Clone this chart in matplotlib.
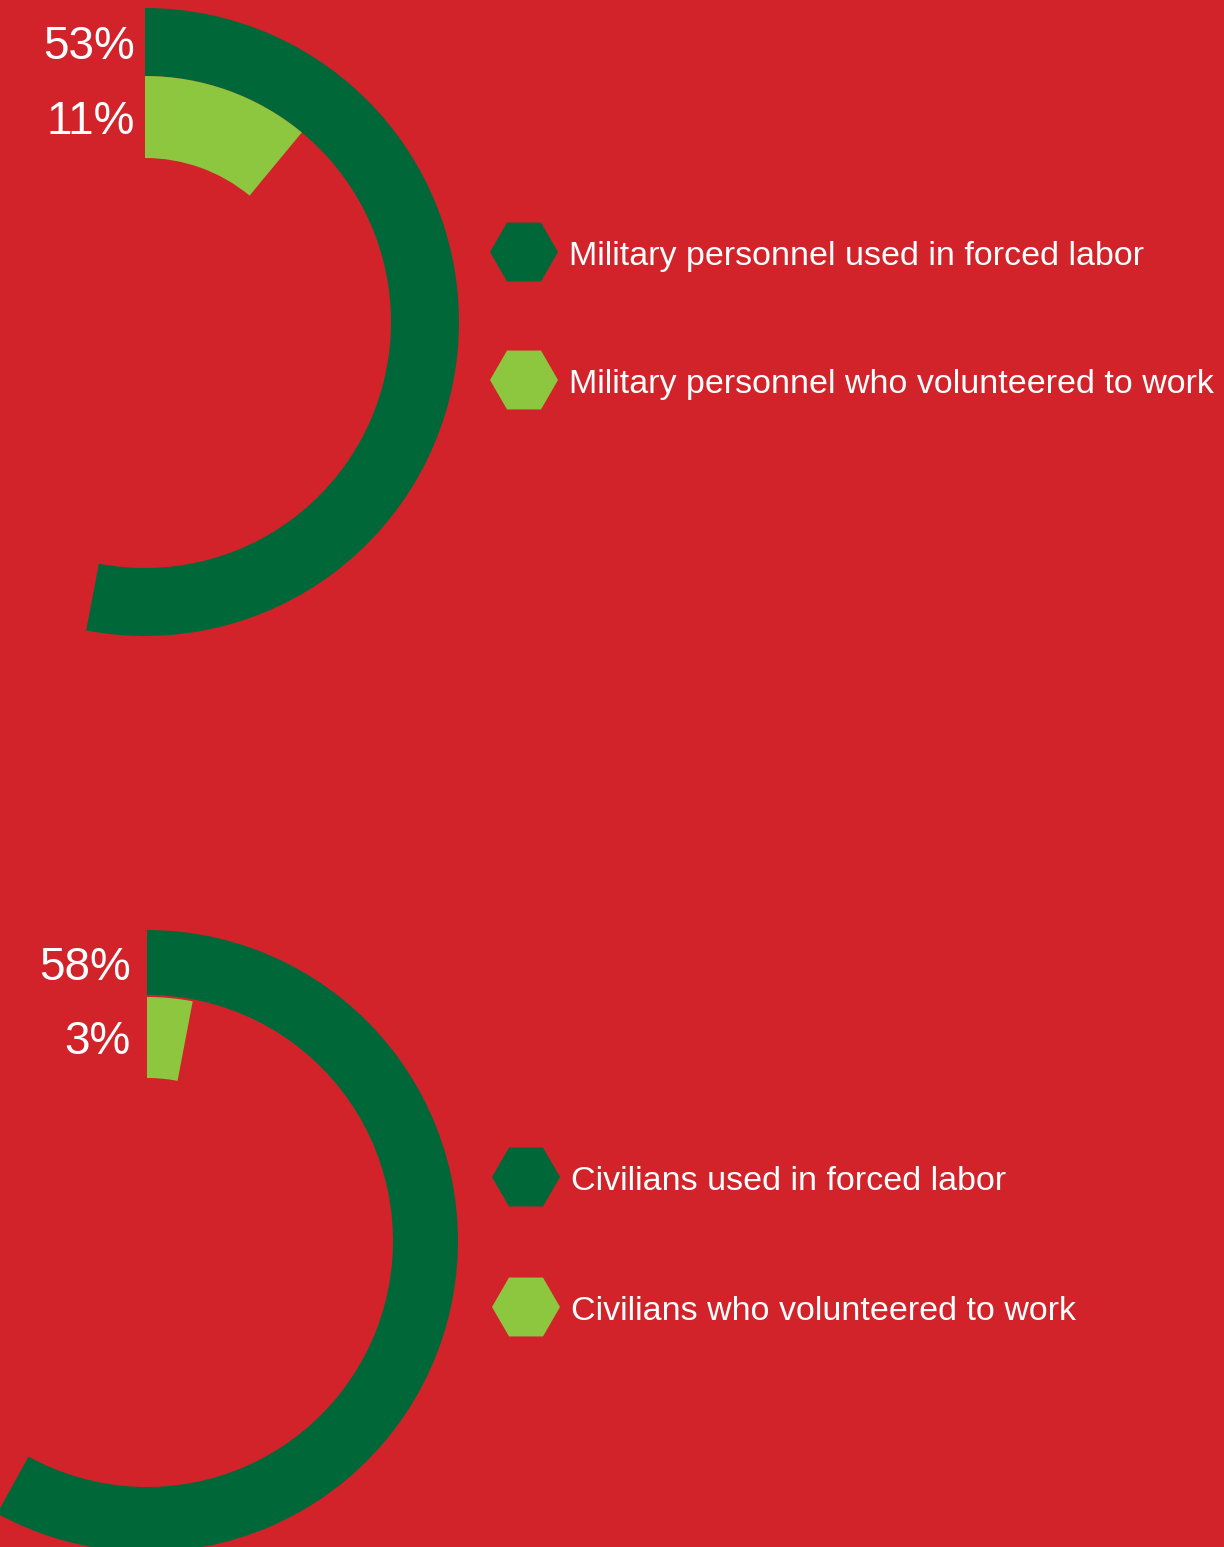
# Radial bars: military personnel vs civilians used in forced labor
import matplotlib.pyplot as plt
from matplotlib.patches import Wedge, RegularPolygon
import numpy as np

# 1. Data
groups = ['Military personnel', 'Civilians']
forced = [53, 58]          # % used in forced labor (outer ring)
volunteered = [11, 3]      # % who volunteered to work (inner ring)
labels_forced = ['Military personnel used in forced labor', 'Civilians used in forced labor']
labels_volunteered = ['Military personnel who volunteered to work', 'Civilians who volunteered to work']

# 2. Colours and layout (pixels)
RED = '#D2232A'
DARK = '#006838'
LIGHT = '#8DC63F'
centers = [(145, 322), (147, 1241)]
outer_r = [(314, 246), (311, 246)]     # (outer radius, inner radius)
inner_r = [(246, 164), (244, 163)]
label_dx = [10, 16]
legend_y = [(252, 380), (1177, 1307)]
legend_x = [524, 526]
FONT = 'Liberation Sans'

W, H = 1224, 1547
fig = plt.figure(figsize=(W / 100, H / 100), dpi=100, facecolor=RED)
ax = fig.add_axes([0, 0, 1, 1])
ax.set_facecolor(RED)
ax.set_xlim(0, W)
ax.set_ylim(H, 0)
ax.set_aspect('equal')
ax.axis('off')

# 3. Rings, starting at 12 o'clock going clockwise
for i in range(len(groups)):
    cx, cy = centers[i]
    for val, (r_out, r_in), col in [(forced[i], outer_r[i], DARK),
                                    (volunteered[i], inner_r[i], LIGHT)]:
        ax.add_patch(Wedge((cx, cy), r_out, -90, -90 + 3.6 * val,
                           width=r_out - r_in, facecolor=col, edgecolor='none'))
        # value label to the left of the ring's start
        ax.text(cx - label_dx[i], cy - (r_out + r_in) / 2 + 5, f'{val}%', color='white',
                fontsize=33, family=FONT, ha='right', va='center')

    # 4. Legend with hexagons
    for y, txt, col in [(legend_y[i][0], labels_forced[i], DARK),
                        (legend_y[i][1], labels_volunteered[i], LIGHT)]:
        ax.add_patch(RegularPolygon((legend_x[i], y), numVertices=6, radius=34,
                                    orientation=np.pi / 6, facecolor=col, edgecolor='none'))
        ax.text(legend_x[i] + 45, y + 4, txt, color='white', fontsize=24.5,
                family=FONT, ha='left', va='center')

plt.savefig('out.png', dpi=100, facecolor=RED)
